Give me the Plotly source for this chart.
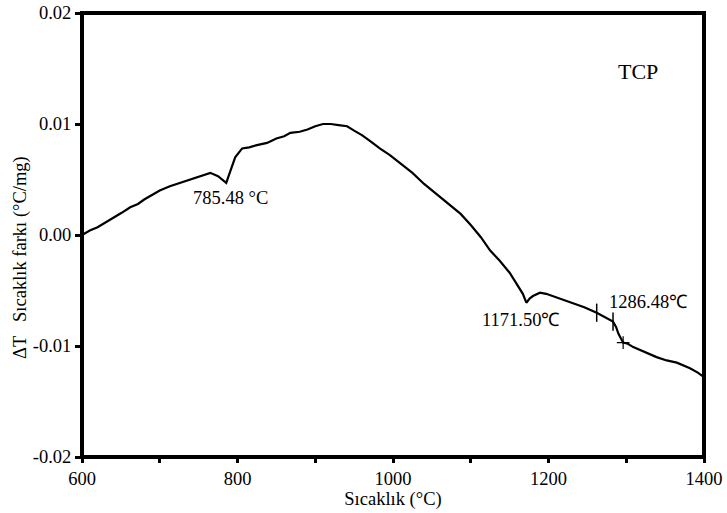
import plotly.graph_objects as go

# DTA curve of TCP: temperature (°C) vs. temperature difference (°C/mg)
temperature = [600, 610, 620, 630, 640, 651, 662, 672, 680, 690, 700, 713, 726, 735,
               745, 755, 765, 775, 785.5, 790, 797, 806, 815, 825, 838, 850, 860,
               868, 880, 890, 900, 910, 920, 930, 941, 950, 960, 972, 983, 996,
               1009, 1025, 1040, 1056, 1073, 1087, 1100, 1113, 1125, 1137, 1150,
               1160, 1167, 1171.5, 1176, 1180, 1189, 1197, 1205, 1218, 1231, 1246,
               1262, 1272, 1283, 1287, 1290, 1296, 1302, 1309, 1322, 1339, 1352,
               1365, 1382, 1392, 1400]
delta_t = [0.0000, 0.0004, 0.0007, 0.0011, 0.0015, 0.0020, 0.0025, 0.0028, 0.0032,
           0.0036, 0.0040, 0.0044, 0.0047, 0.0049, 0.0051, 0.0053, 0.0056, 0.0053,
           0.0047, 0.0056, 0.0070, 0.0078, 0.0079, 0.0081, 0.0083, 0.0087, 0.0089,
           0.0092, 0.0093, 0.0095, 0.0098, 0.0100, 0.0100, 0.0099, 0.0098, 0.0094,
           0.0090, 0.0084, 0.0078, 0.0072, 0.0065, 0.0056, 0.0046, 0.0037, 0.0027,
           0.0019, 0.0009, -0.0002, -0.0014, -0.0023, -0.0034, -0.0045, -0.0053,
           -0.0061, -0.0057, -0.0055, -0.0052, -0.0053, -0.0055, -0.0058, -0.0061,
           -0.0065, -0.0070, -0.0074, -0.0078, -0.0083, -0.0089, -0.0097, -0.0098,
           -0.0101, -0.0105, -0.0110, -0.0113, -0.0115, -0.0120, -0.0124, -0.0128]

# Onset markers on the curve
onset_t = [1262, 1283]
onset_y = [-0.0070, -0.0078]
cross_t = [1296]
cross_y = [-0.0097]

# Peak labels
peak_labels = ["785.48 °C", "1171.50℃", "1286.48℃"]
peak_label_x = [785.5, 1171.5, 1286.48]
peak_label_y = [0.0047, -0.0061, -0.0078]

x_ticks = [600, 700, 800, 900, 1000, 1100, 1200, 1300, 1400]
x_ticktext = ["600", "", "800", "", "1000", "", "1200", "", "1400"]
y_ticks = [-0.02, -0.01, 0.00, 0.01, 0.02]
y_ticktext = ["-0.02", "-0.01", "0.00", "0.01", "0.02"]

FONT = "Liberation Serif, Times New Roman, serif"

fig = go.Figure()
fig.add_trace(go.Scatter(x=temperature, y=delta_t, mode="lines",
                         line=dict(color="black", width=2.2), showlegend=False))
fig.add_trace(go.Scatter(x=onset_t, y=onset_y, mode="markers",
                         marker=dict(symbol="line-ns", size=13,
                                     line=dict(color="black", width=1.5)),
                         showlegend=False))
fig.add_trace(go.Scatter(x=cross_t, y=cross_y, mode="markers",
                         marker=dict(symbol="cross-thin", size=9,
                                     line=dict(color="black", width=1.2)),
                         showlegend=False))

# peak annotations, offsets in pixels relative to the marked point
offsets = [(4, 15), (-6, 17), (32, -20)]
for txt, px, py, (dx, dy) in zip(peak_labels, peak_label_x, peak_label_y, offsets):
    fig.add_annotation(x=px, y=py, text=txt, showarrow=False,
                       xshift=dx, yshift=-dy,
                       font=dict(family=FONT, size=18.5, color="black"))

fig.add_annotation(x=0.93, y=0.9, xref="paper", yref="paper", text="TCP",
                   showarrow=False, font=dict(family=FONT, size=22, color="black"))

fig.add_annotation(x=-0.1, y=0.45, xref="paper", yref="paper",
                   xanchor="center", yanchor="middle",
                   text="ΔT&nbsp;&nbsp; Sıcaklık farkı (°C/mg)", textangle=-90,
                   showarrow=False, font=dict(family=FONT, size=18.5, color="black"))

# heavy plot frame
fig.add_shape(type="rect", xref="paper", yref="paper", x0=0, y0=0, x1=1, y1=1,
              line=dict(color="black", width=4), layer="above")

fig.update_layout(
    width=727, height=513,
    margin=dict(l=82, r=23, t=13, b=56, autoexpand=False),
    paper_bgcolor="white", plot_bgcolor="white",
    font=dict(family=FONT, size=18.5, color="black"),
    xaxis=dict(range=[600, 1400], tickvals=x_ticks, ticktext=x_ticktext,
               ticks="outside", ticklen=5, tickwidth=3, tickcolor="black",
               showgrid=False, zeroline=False, showline=False, automargin=False,
               title=dict(text="Sıcaklık (°C)", standoff=0,
                          font=dict(family=FONT, size=18.5))),
    yaxis=dict(range=[-0.02, 0.02], tickvals=y_ticks, ticktext=y_ticktext,
               ticks="outside", ticklen=6, tickwidth=3, tickcolor="black",
               showgrid=False, zeroline=False, showline=False, automargin=False),
)

fig.write_html("out.html")
